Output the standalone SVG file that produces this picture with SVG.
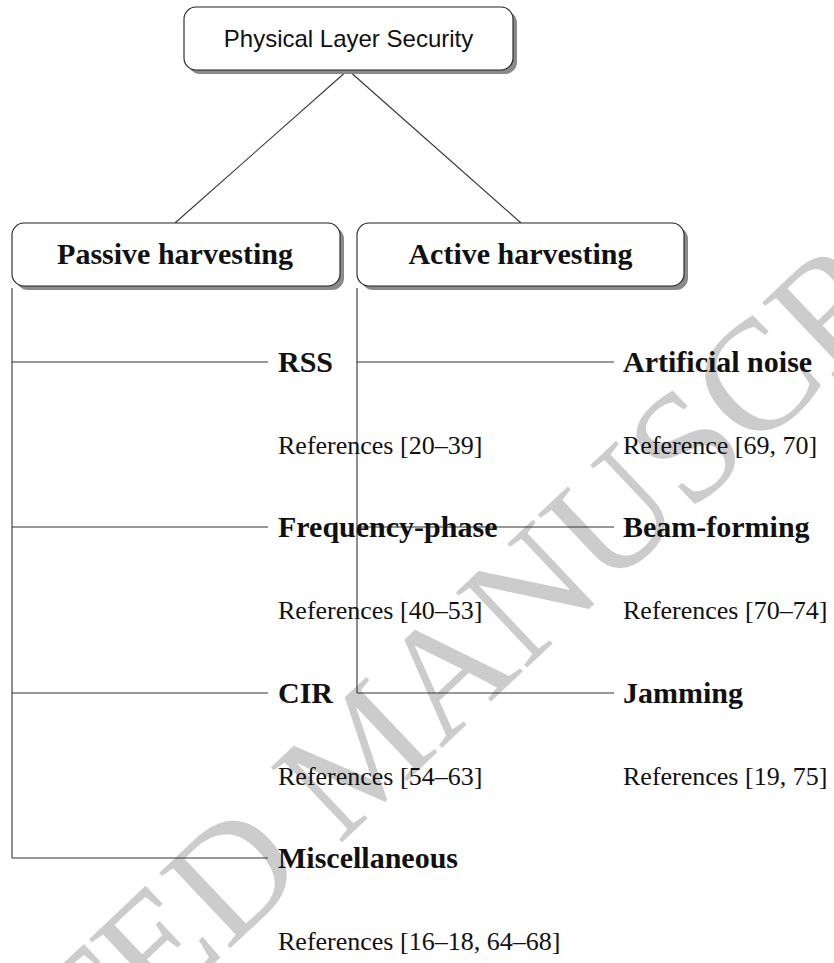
<svg xmlns="http://www.w3.org/2000/svg" width="834" height="963" viewBox="0 0 834 963">
<style>
.box{fill:#fff;stroke:#222;stroke-width:1.1}
.shadow{fill:#8a8a8a}
.ln{stroke:#333;stroke-width:1.1;fill:none}
.sans{font-family:"Liberation Sans",Arial,sans-serif;font-size:24px;fill:#111}
.bold{font-family:"Liberation Serif","Times New Roman",serif;font-weight:bold;font-size:30px;fill:#111}
.reg{font-family:"Liberation Serif","Times New Roman",serif;font-size:26px;fill:#111}
.wm{font-family:"Liberation Serif","Times New Roman",serif;font-size:158px;fill:#cccccc}
</style>
<rect width="834" height="963" fill="#fff"/>
<g id="watermark">
<text class="wm" transform="translate(362,752) rotate(-43.4)" x="0" y="52" text-anchor="middle">ACCEPTED MANUSCRIPT</text>
</g>
<g id="connectors">
<line class="ln" x1="348" y1="70" x2="175" y2="223"/>
<line class="ln" x1="348" y1="70" x2="521" y2="223"/>
<line class="ln" x1="12" y1="288" x2="12" y2="858"/>
<line class="ln" x1="12" y1="362" x2="268" y2="362"/>
<line class="ln" x1="12" y1="527" x2="268" y2="527"/>
<line class="ln" x1="12" y1="693" x2="268" y2="693"/>
<line class="ln" x1="12" y1="858" x2="268" y2="858"/>
<line class="ln" x1="357" y1="288" x2="357" y2="693"/>
<line class="ln" x1="357" y1="362" x2="614" y2="362"/>
<line class="ln" x1="357" y1="527" x2="614" y2="527"/>
<line class="ln" x1="357" y1="693" x2="614" y2="693"/>
</g>
<g id="root">
<rect class="shadow" x="188" y="11" width="329" height="63" rx="12"/>
<rect class="box" x="184" y="7" width="329" height="63" rx="12"/>
<text class="sans" x="348.5" y="47" text-anchor="middle">Physical Layer Security</text>
</g>
<g id="passive">
<rect class="shadow" x="16" y="227" width="328" height="63" rx="12"/>
<rect class="box" x="12" y="223" width="328" height="63" rx="12"/>
<text class="bold" x="175" y="264" text-anchor="middle">Passive harvesting</text>
</g>
<g id="active">
<rect class="shadow" x="361" y="227" width="327" height="63" rx="12"/>
<rect class="box" x="357" y="223" width="327" height="63" rx="12"/>
<text class="bold" x="520.5" y="264" text-anchor="middle">Active harvesting</text>
</g>
<g id="rss">
<text class="bold" x="278" y="372">RSS</text>
<text class="reg" x="278" y="454">References [20–39]</text>
</g>
<g id="freq">
<text class="bold" x="278" y="537">Frequency-phase</text>
<text class="reg" x="278" y="619">References [40–53]</text>
</g>
<g id="cir">
<text class="bold" x="278" y="703">CIR</text>
<text class="reg" x="278" y="785">References [54–63]</text>
</g>
<g id="misc">
<text class="bold" x="278" y="868">Miscellaneous</text>
<text class="reg" x="278" y="950">References [16–18, 64–68]</text>
</g>
<g id="noise">
<text class="bold" x="623" y="372">Artificial noise</text>
<text class="reg" x="623" y="454">Reference [69, 70]</text>
</g>
<g id="beam">
<text class="bold" x="623" y="537">Beam-forming</text>
<text class="reg" x="623" y="619">References [70–74]</text>
</g>
<g id="jam">
<text class="bold" x="623" y="703">Jamming</text>
<text class="reg" x="623" y="785">References [19, 75]</text>
</g>
</svg>
